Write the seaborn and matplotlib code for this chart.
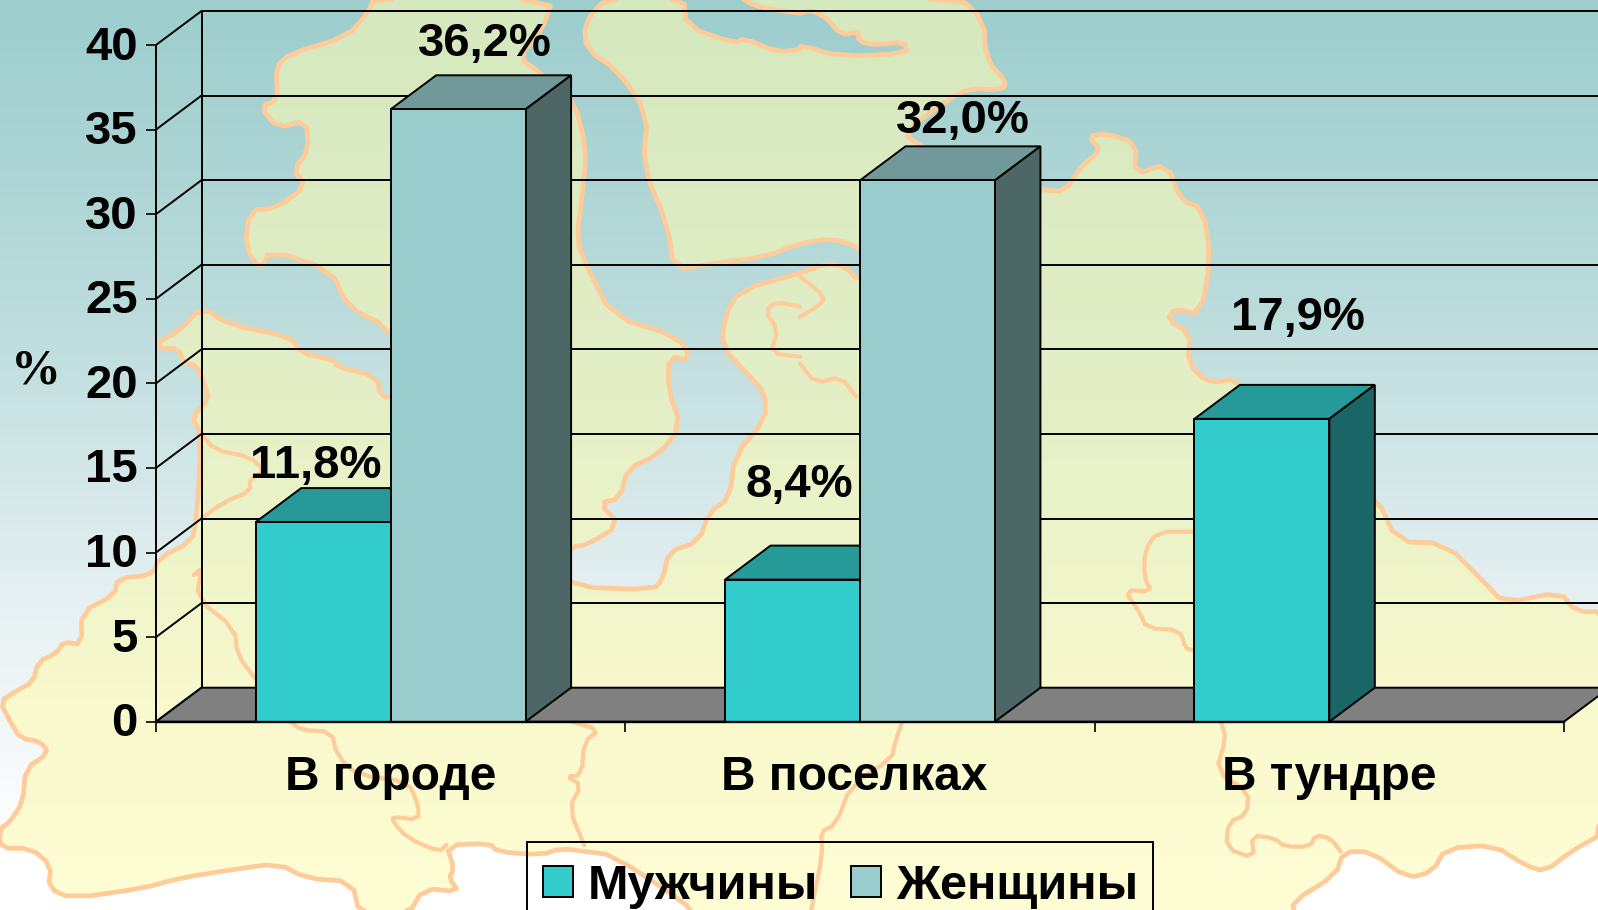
import matplotlib
import numpy as np
import pandas as pd
import seaborn as sns
from matplotlib.patches import Polygon, Rectangle

matplotlib.use("Agg")
import matplotlib.pyplot as plt
from matplotlib.transforms import IdentityTransform, ScaledTranslation, offset_copy

PLACES = ["В городе", "В поселках", "В тундре"]
MEN = [11.8, 8.4, 17.9]
WOMEN = [36.2, 32.0, np.nan]
SERIES = ["Мужчины", "Женщины"]
Y_TICKS = [0, 5, 10, 15, 20, 25, 30, 35, 40]

WIDTH, HEIGHT = 1598, 910
DX, DY = 45.5, 34
EDGE = 1.4

FRONT = {"Мужчины": "#33CCCC", "Женщины": "#99CCCC"}
TOP = {"Мужчины": "#269999", "Женщины": "#729999"}
SIDE = {"Мужчины": "#1A6666", "Женщины": "#4D6666"}

# where the value labels sit relative to the top of the bar, in pixels
LABEL_SHIFT = {
    "Мужчины": [(-7, 56), (7, 95), (36, 101)],
    "Женщины": [(27, 65), (35, 59), (0, 0)],
}


def pts(ox, oy, coords):
    return [(ox + x / 1.96, oy + y / 3) for x, y in coords]


def smooth(line, closed=False):
    # one corner-cutting pass so the outlines are less angular
    out = [] if closed else [line[0]]
    pairs = zip(line, line[1:] + line[:1]) if closed else zip(line, line[1:])
    for (x0, y0), (x1, y1) in pairs:
        out.append((0.75 * x0 + 0.25 * x1, 0.75 * y0 + 0.25 * y1))
        out.append((0.25 * x0 + 0.75 * x1, 0.25 * y0 + 0.75 * y1))
    if not closed:
        out.append(line[-1])
    return out


COAST = (
    pts(0, 455, [(0, 1180), (0, 1120), (20, 1100), (45, 1040), (50, 940), (95, 895), (80, 860), (40, 850),
                 (20, 800), (0, 740), (30, 710), (65, 680), (75, 620), (110, 595), (125, 560), (160, 570),
                 (160, 470), (225, 420), (230, 370), (300, 360), (310, 310), (375, 260), (385, 200)])
    + pts(0, 0, [(395, 1300), (375, 1250), (410, 1200), (400, 1150), (385, 1095), (360, 1090), (350, 1045),
                 (310, 1045), (315, 1020), (350, 995), (395, 920), (450, 975), (570, 1010), (590, 1060),
                 (655, 1080), (660, 1100), (740, 1130), (745, 1190), (780, 1190), (800, 1100), (760, 980),
                 (680, 920), (650, 810), (530, 750), (510, 810), (480, 740), (490, 630), (540, 625),
                 (600, 560), (575, 510), (605, 450), (600, 360), (545, 385), (510, 320), (545, 300),
                 (540, 200), (570, 160), (680, 110), (720, 40), (735, -10), (1085, -10), (1060, 100),
                 (1015, 170), (1060, 220), (1080, 250), (1125, 300), (1150, 450), (1140, 600), (1130, 720),
                 (1150, 800), (1200, 950), (1330, 1010), (1355, 1080), (1310, 1070), (1310, 1170),
                 (1335, 1280), (1290, 1365)])
    + pts(0, 455, [(1230, 40), (1215, 130), (1175, 145), (1215, 210), (1150, 270), (1120, 275), (1100, 330),
                   (1120, 395), (1280, 405), (1300, 370), (1310, 290), (1370, 260), (1390, 170), (1430, 130),
                   (1440, 0)])
    + pts(0, 0, [(1500, 1260), (1500, 1180), (1470, 1130), (1415, 1040), (1420, 950), (1450, 870), (1568, 820)])
    + pts(800, 0, [(50, 790), (90, 800), (115, 845), (160, 790), (115, 740), (60, 715), (0, 730)])
    + pts(0, 0, [(1500, 770), (1400, 790), (1320, 810), (1310, 680), (1260, 500), (1270, 340), (1210, 210),
                 (1150, 150), (1145, 70), (1190, -10), (1340, -10), (1345, 80), (1440, 130), (1460, 115),
                 (1520, 155), (1568, 150)])
    + pts(800, 0, [(0, 135), (80, 170), (210, 160), (205, 125), (150, 135), (115, 125), (115, 95), (80, 105),
                   (50, 50), (20, 30), (0, 40)])
    + pts(0, 0, [(1568, 40), (1480, 20), (1450, -10)])
    + pts(800, 0, [(310, -10), (360, 60), (365, 180), (405, 245), (395, 270), (330, 265), (290, 300), (200, 400),
                   (240, 440), (300, 500), (470, 570), (520, 575), (550, 500), (590, 450), (565, 410), (600, 400),
                   (660, 430), (655, 525), (720, 490), (745, 600), (790, 625), (805, 780), (785, 945), (735, 925),
                   (720, 960), (765, 1000), (760, 1090), (800, 1150), (860, 1135)])
    + pts(800, 455, [(1130, 125), (1170, 260), (1265, 265), (1340, 380), (1380, 445), (1490, 410), (1520, 470),
                     (1580, 470), (1580, 1130), (1510, 1190), (1460, 1250), (1420, 1230), (1360, 1170), (1265, 1180),
                     (1240, 1250), (1190, 1270), (1120, 1190), (1065, 1190), (1050, 1260), (965, 1340), (970, 1380)])
    + pts(0, 455, [(1360, 1380), (1340, 1340), (1200, 1200), (1150, 1190), (1100, 1180), (1060, 1200), (975, 1190),
                   (960, 1165), (875, 1170), (890, 1240), (880, 1270), (900, 1310), (830, 1300), (800, 1380),
                   (705, 1380), (690, 1280), (600, 1270), (545, 1225), (450, 1245), (350, 1270), (280, 1300),
                   (140, 1330), (95, 1300), (100, 1230), (60, 1180)])
)

BORDERS = [
    pts(0, 455, [(570, 800), (590, 825), (650, 830), (660, 900), (700, 960), (800, 980), (820, 1050), (820, 1095),
                 (770, 1085), (770, 1100), (800, 1150), (860, 1190), (875, 1170)]),
    pts(0, 455, [(1120, 800), (1175, 825), (1145, 860), (1140, 960), (1110, 965), (1140, 990), (1115, 1060),
                 (1145, 1170)]),
    pts(0, 455, [(380, 360), (395, 340), (385, 430), (460, 520), (465, 600), (500, 670)]),
    pts(0, 455, [(395, 190), (440, 140), (490, 110), (490, 70), (520, 50), (490, 5), (420, -15), (395, -65)]),
    pts(800, 455, [(200, 800), (185, 870), (180, 910), (100, 990), (70, 1110), (40, 1130), (45, 1190), (20, 1380)]),
    pts(800, 455, [(825, 800), (835, 850), (815, 950), (880, 1010), (875, 1080), (840, 1100), (835, 1180), (890, 1210),
                   (885, 1140), (930, 1150), (950, 1175), (1000, 1175), (1010, 1140), (1040, 1150), (1060, 1190)]),
    pts(800, 455, [(770, 230), (700, 230), (675, 290), (675, 370), (690, 410), (635, 405), (665, 470), (680, 520),
                   (745, 525), (755, 580), (770, 585)]),
    pts(800, 0, [(0, 830), (50, 890), (35, 920), (0, 950)]),
    pts(800, 0, [(0, 1090), (30, 1150), (80, 1130), (110, 1190)]),
    pts(0, 0, [(1568, 920), (1520, 905), (1500, 935), (1525, 990), (1510, 1060), (1568, 1070)]),
]

OUTLINE = "#FFCC99"


def gradient(stops):
    ys = np.arange(HEIGHT)
    at = [s[0] for s in stops]
    channels = [np.interp(ys, at, [s[1][i] for s in stops]) for i in range(3)]
    return np.dstack(channels).reshape(HEIGHT, 1, 3) / 255


def draw_background(fig):
    bg = fig.add_axes([0, 0, 1, 1], zorder=-1)
    sea = gradient([(0, (157, 205, 205)), (300, (186, 219, 219)), (600, (230, 240, 242)), (850, (255, 255, 255))])
    land = gradient([(0, (213, 232, 190)), (400, (228, 239, 198)), (700, (248, 249, 204)), (910, (255, 253, 212))])
    extent = (0, WIDTH, HEIGHT, 0)
    bg.imshow(sea, aspect="auto", extent=extent)
    land_img = bg.imshow(land, aspect="auto", extent=extent)
    shape = Polygon(smooth(COAST, closed=True), closed=True, facecolor="none", edgecolor=OUTLINE, linewidth=3.4,
                    joinstyle="round")
    bg.add_patch(shape)
    land_img.set_clip_path(shape)
    for line in BORDERS:
        xs, ys = zip(*smooth(line))
        bg.plot(xs, ys, color=OUTLINE, linewidth=3.0, solid_joinstyle="round")
    bg.set_xlim(0, WIDTH)
    bg.set_ylim(HEIGHT, 0)
    bg.axis("off")


def px_box(left, right, top, bottom):
    return [left / WIDTH, 1 - bottom / HEIGHT, (right - left) / WIDTH, (bottom - top) / HEIGHT]


def add_face(ax, corners, color, zorder):
    ax.add_patch(Polygon(corners, closed=True, facecolor=color, edgecolor="black", linewidth=EDGE,
                         transform=IdentityTransform(), clip_on=False, zorder=zorder))


def draw_walls(ax):
    back = offset_copy(ax.transData, fig=ax.figure, x=DX, y=DY, units="dots")
    for tick in Y_TICKS:
        ax.plot([-0.5, 2.6], [tick, tick], transform=back, color="black", linewidth=EDGE, clip_on=False, zorder=1)
    ax.plot([-0.5, -0.5], [0, 40], transform=back, color="black", linewidth=EDGE, clip_on=False, zorder=1)
    to_px = ax.transData.transform
    for tick in Y_TICKS:
        x, y = to_px((-0.5, tick))
        ax.plot([x, x + DX], [y, y + DY], transform=IdentityTransform(), color="black", linewidth=EDGE,
                clip_on=False, zorder=1)
    (x0, y0), (x1, _) = to_px((-0.5, 0)), to_px((2.5, 0))
    add_face(ax, [(x0, y0), (x1, y0), (x1 + DX, y0 + DY), (x0 + DX, y0 + DY)], "#808080", 1.5)


def draw_bars_3d(ax):
    to_px = ax.transData.transform
    for rank, (name, container) in enumerate(zip(SERIES, ax.containers)):
        for i, bar in enumerate(container):
            value = bar.get_height()
            if np.isnan(value):
                continue
            bar.set_zorder(4 + 2 * rank)
            (l, b), (r, t) = to_px((bar.get_x(), 0)), to_px((bar.get_x() + bar.get_width(), value))
            add_face(ax, [(l, t), (r, t), (r + DX, t + DY), (l + DX, t + DY)], TOP[name], 3 + 2 * rank)
            add_face(ax, [(r, b), (r, t), (r + DX, t + DY), (r + DX, b + DY)], SIDE[name], 3 + 2 * rank)
            ax.annotate(
                f"{value:.1f}%".replace(".", ","),
                xy=(bar.get_x() + bar.get_width() / 2, value),
                xytext=LABEL_SHIFT[name][i],
                textcoords="offset pixels",
                ha="center",
                va="center",
                fontsize=34,
                fontweight="bold",
                color="black",
                annotation_clip=False,
                zorder=12,
            )


def main():
    sns.set_style("ticks")
    plt.rcParams["font.family"] = ["Liberation Sans", "DejaVu Sans"]

    fig = plt.figure(figsize=(WIDTH / 100, HEIGHT / 100), dpi=100)
    draw_background(fig)

    ax = fig.add_axes(px_box(156, 1564, 45, 721.7))
    ax.patch.set_alpha(0)

    df = pd.DataFrame({
        "place": PLACES * 2,
        "sex": [SERIES[0]] * 3 + [SERIES[1]] * 3,
        "percent": MEN + WOMEN,
    })
    sns.barplot(
        data=df, x="place", y="percent", hue="sex", order=PLACES, hue_order=SERIES,
        palette=FRONT, saturation=1, width=0.575, gap=0, edgecolor="black", linewidth=EDGE, ax=ax,
    )
    ax.set_xlim(-0.5, 2.5)
    ax.set_ylim(0, 40)
    ax.set_xlabel("")
    ax.set_ylabel("")

    ax.set_yticks(Y_TICKS)
    ax.set_xticks([-0.5, 0.5, 1.5, 2.5])
    ax.set_xticklabels([])
    ax.set_xticks([0, 1, 2], PLACES, minor=True)
    ax.tick_params(axis="both", which="major", length=7.2, width=1.2, color="black")
    ax.tick_params(axis="x", which="minor", length=0, pad=24, labelsize=34.5)
    ax.tick_params(axis="y", labelsize=34, pad=6, labelcolor="black")
    x_labels = ax.get_xticklabels(minor=True)
    for label in x_labels:
        label.set_fontweight("bold")
        label.set_color("black")
    nudge = ScaledTranslation(-6 / 100, 0, fig.dpi_scale_trans)
    x_labels[1].set_transform(x_labels[1].get_transform() + nudge)
    lift = ScaledTranslation(0, 2.5 / 100, fig.dpi_scale_trans)
    for label in ax.get_yticklabels():
        label.set_fontweight("bold")
        label.set_color("black")
        label.set_transform(label.get_transform() + lift)

    sns.despine(ax=ax, top=True, right=True)
    ax.spines["left"].set_linewidth(EDGE)
    ax.spines["bottom"].set_linewidth(1.7)
    for side in ("left", "bottom"):
        ax.spines[side].set_zorder(11)
        ax.spines[side].set_color("black")

    draw_walls(ax)
    draw_bars_3d(ax)

    # frame drawn apart from the legend: it runs off the bottom of the picture
    sns.move_legend(
        ax, "upper left", bbox_to_anchor=(526.5 / WIDTH, 1 - 847.5 / HEIGHT), bbox_transform=fig.transFigure,
        ncol=2, title=None, frameon=False,
        fontsize=35, handlelength=0.62, handleheight=0.62, handletextpad=0.31, columnspacing=0.68,
        borderpad=0.33, borderaxespad=0,
    )
    legend = ax.get_legend()
    legend.set_zorder(13)
    for text in legend.get_texts():
        text.set_fontweight("bold")
        text.set_color("black")
    fig.add_artist(Rectangle((526.5 / WIDTH, -0.05), (1152.6 - 526.5) / WIDTH, 1.05 - 841.7 / HEIGHT,
                             transform=fig.transFigure, facecolor="none", edgecolor="black", linewidth=EDGE))

    fig.text(35.5 / WIDTH, 1 - 371 / HEIGHT, "%", ha="center", va="center", fontsize=36, fontweight="bold",
             family="Liberation Serif", color="black")

    fig.savefig("out.png", dpi=100)
    plt.close(fig)


if __name__ == "__main__":
    main()
